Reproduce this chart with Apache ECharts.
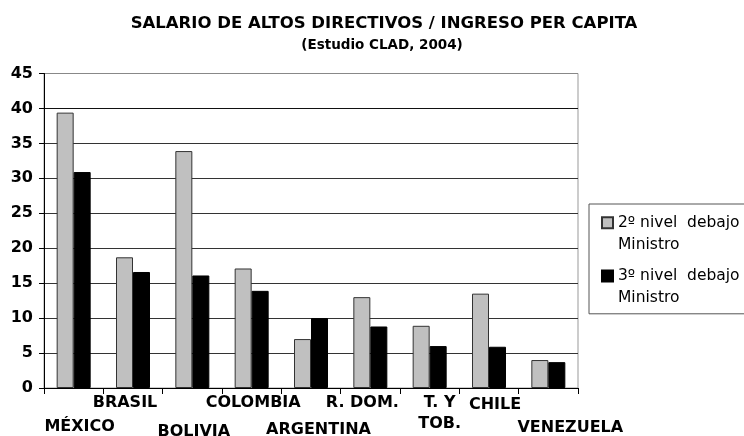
<!DOCTYPE html>
<html>
<head>
<meta charset="utf-8">
<script src="https://cdn.jsdelivr.net/npm/echarts@6/dist/echarts.min.js"></script>
<style>
  html, body { margin: 0; padding: 0; background: #ffffff; }
  #chart { width: 744px; height: 436px; }
</style>
</head>
<body>
<div id="chart"></div>
<script>
// Countries of the CLAD 2004 survey, in plotting order
const countries = ['MÉXICO', 'BRASIL', 'BOLIVIA', 'COLOMBIA', 'ARGENTINA', 'R. DOM.', 'T. Y TOB.', 'CHILE', 'VENEZUELA'];
// Text shown under each category (T. Y TOB. wraps onto two lines)
const tickLabels = ['MÉXICO', 'BRASIL', 'BOLIVIA', 'COLOMBIA', 'ARGENTINA', 'R. DOM.', 'T. Y\nTOB.', 'CHILE', 'VENEZUELA'];

// Salary of senior officials as a multiple of income per capita
const nivel2 = [39.4, 18.7, 33.9, 17.1, 7.0, 13.0, 8.9, 13.5, 4.0];
const nivel3 = [30.9, 16.6, 16.1, 13.9, 10.0, 8.8, 6.0, 5.9, 3.7];
const seriesNames = ['2º nivel  debajo\nMinistro', '3º nivel  debajo\nMinistro'];

const titleText = 'SALARIO DE ALTOS DIRECTIVOS / INGRESO PER CAPITA';
const subtitleText = '(Estudio CLAD, 2004)';

const FONT = 'DejaVu Sans';

// Staggered tick-label placement: [horizontal nudge, top padding of first line, top padding of second line] in px
const labelNudge = [[6, 57, 0], [-8, 10.6, 0], [1.5, 67, 0], [1.5, 10.6, 0], [7.5, 64, 0], [-8, 10.6, 0], [10, 10.6, 11], [6, 14, 0], [22, 60.6, 0]];

const baseLabel = { fontFamily: FONT, fontWeight: 'bold', fontSize: 16, lineHeight: 20, color: '#000' };
const rich = {};
labelNudge.forEach(([dx, dy, dy2], i) => {
  const padH = dx >= 0 ? [2 * dx, 0] : [0, -2 * dx];
  rich['n' + i] = Object.assign({}, baseLabel, { padding: [dy, padH[1], 0, padH[0]] });
  rich['c' + i] = Object.assign({}, baseLabel, { lineHeight: 21, padding: [dy2, padH[1], 0, padH[0]] });
});

const chart = echarts.init(document.getElementById('chart'), null, { renderer: 'canvas' });

chart.setOption({
  animation: false,
  backgroundColor: '#ffffff',
  title: [
    {
      text: titleText,
      left: 384, top: 13.5, textAlign: 'center', padding: 0,
      textStyle: { fontFamily: FONT, fontWeight: 'bold', fontSize: 16.5, lineHeight: 20, color: '#000' }
    },
    {
      text: subtitleText,
      left: 382, top: 36, textAlign: 'center', padding: 0,
      textStyle: { fontFamily: FONT, fontWeight: 'bold', fontSize: 13.5, lineHeight: 18, color: '#000' }
    }
  ],
  legend: {
    orient: 'vertical',
    left: 589, top: 204,
    padding: [8, 40, 5, 12],
    itemGap: 10,
    itemWidth: 11,
    itemHeight: 33,
    // square swatch sitting level with the first text line
    icon: 'path://M0,0h11v11h-11zM0,33L0,33',
    borderColor: '#555',
    borderWidth: 1,
    textStyle: { fontFamily: FONT, fontSize: 15.5, lineHeight: 21.7, color: '#000' },
    data: seriesNames
  },
  grid: {
    left: 44, right: 166, top: 73.5, bottom: 48,
    outerBoundsMode: 'none',
    containLabel: false,
    show: true, borderColor: '#999', borderWidth: 1, backgroundColor: 'transparent'
  },
  xAxis: {
    type: 'category',
    data: countries,
    axisLine: { show: true, lineStyle: { color: '#000', width: 1 } },
    axisTick: { show: true, length: 6, lineStyle: { color: '#000' } },
    axisLabel: {
      interval: 0,
      margin: 0,
      ...baseLabel,
      rich: rich,
      formatter: (value, index) => tickLabels[index]
        .split('\n')
        .map((line, k) => '{' + (k === 0 ? 'n' : 'c') + index + '|' + line + '}')
        .join('\n')
    },
    splitLine: { show: false }
  },
  yAxis: {
    type: 'value',
    min: 0, max: 45, interval: 5,
    axisLine: { show: true, lineStyle: { color: '#000', width: 1 } },
    axisTick: { show: true, length: 5, lineStyle: { color: '#000' } },
    axisLabel: { margin: 11, fontFamily: FONT, fontWeight: 'bold', fontSize: 16, color: '#000' },
    splitLine: {
      show: true,
      lineStyle: { color: ['#333', '#333', '#333', '#333', '#333', '#333', '#333', '#333', '#111', '#888'], width: 1 }
    }
  },
  series: [
    {
      name: seriesNames[0],
      type: 'bar',
      data: nivel2,
      barWidth: 17,
      barGap: '0%',
      itemStyle: { color: '#c0c0c0', borderColor: '#333', borderWidth: 1 }
    },
    {
      name: seriesNames[1],
      type: 'bar',
      data: nivel3,
      barWidth: 17,
      barGap: '0%',
      itemStyle: { color: '#000000', borderColor: '#000', borderWidth: 1 }
    }
  ]
});
</script>
</body>
</html>
